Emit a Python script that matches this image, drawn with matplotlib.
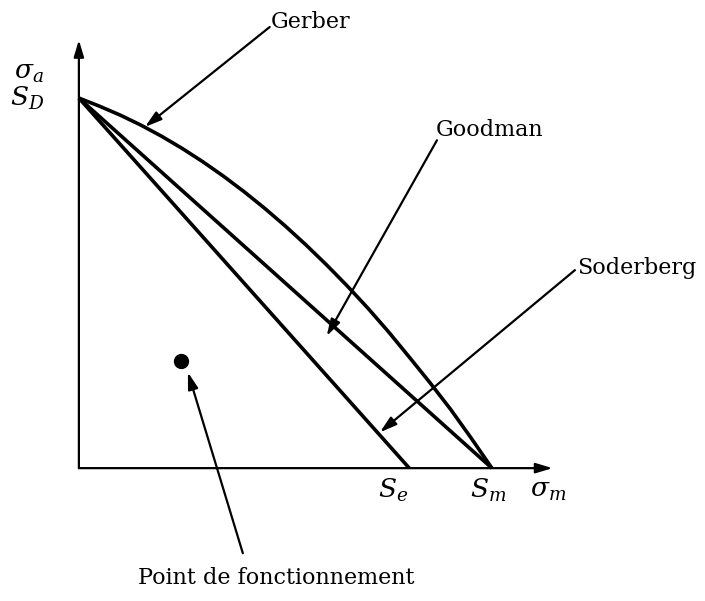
import numpy as np
import matplotlib
matplotlib.use("Agg")
import matplotlib.pyplot as plt

plt.rcParams['font.family'] = ['DejaVu Serif']
plt.rcParams['mathtext.fontset'] = 'dejavuserif'

# diagram values (normalised: S_D = 1 on sigma_a, S_m = 1 on sigma_m)
S_D = 1.0
S_m = 1.0
S_e = 0.80

# Gerber curve
gerber_x = [0.0, 0.05, 0.1, 0.15, 0.2, 0.25, 0.3, 0.35, 0.4, 0.45, 0.5,
            0.55, 0.6, 0.65, 0.7, 0.75, 0.8, 0.85, 0.9, 0.95, 1.0]
gerber_y = [1.0, 0.978, 0.954, 0.927, 0.897, 0.864, 0.828, 0.789, 0.747, 0.702, 0.654,
            0.603, 0.549, 0.492, 0.432, 0.368, 0.300, 0.231, 0.159, 0.081, 0.0]

# operating point
point_x = [0.247]
point_y = [0.289]

fig = plt.figure(figsize=(7.05, 6.01), dpi=100)
ax = fig.add_axes([0, 0, 1, 1])
ax.set_xlim(-0.191, 1.516)
ax.set_ylim(-0.359, 1.265)
ax.axis('off')

lw = 2.6
head = '-|>,head_length=1.0,head_width=0.3'
# axes with arrows
ax.annotate('', xy=(1.147, 0), xytext=(0, 0),
            arrowprops=dict(arrowstyle=head, lw=1.6, color='black', shrinkA=0, shrinkB=0))
ax.annotate('', xy=(0, 1.157), xytext=(0, 0),
            arrowprops=dict(arrowstyle=head, lw=1.6, color='black', shrinkA=0, shrinkB=0))

# Goodman, Soderberg, Gerber
ax.plot([0, S_m], [S_D, 0], color='black', lw=lw, solid_capstyle='butt')
ax.plot([0, S_e], [S_D, 0], color='black', lw=lw, solid_capstyle='butt')
ax.plot(gerber_x, gerber_y, color='black', lw=lw, solid_joinstyle='round', solid_capstyle='butt')

ax.plot(point_x, point_y, 'o', color='black', ms=10)

arrow = dict(arrowstyle=head, lw=1.6, color='black', shrinkA=0, shrinkB=0)
ax.annotate('', xy=(0.160, 0.922), xytext=(0.462, 1.192), arrowprops=arrow)
ax.annotate('', xy=(0.600, 0.357), xytext=(0.867, 0.886), arrowprops=arrow)
ax.annotate('', xy=(0.729, 0.097), xytext=(1.201, 0.535), arrowprops=arrow)
ax.annotate('', xy=(0.264, 0.259), xytext=(0.397, -0.230), arrowprops=arrow)

fs = 16
ax.text(0.465, 1.205, 'Gerber', fontsize=fs, ha='left', va='center')
ax.text(0.865, 0.914, 'Goodman', fontsize=fs, ha='left', va='center')
ax.text(1.206, 0.541, 'Soderberg', fontsize=fs, ha='left', va='center')
ax.text(0.479, -0.297, 'Point de fonctionnement', fontsize=fs, ha='center', va='center')

ms = 19
ax.text(-0.12, 1.07, r'$\sigma_a$', fontsize=ms, ha='center', va='center')
ax.text(-0.125, 1.0, r'$S_D$', fontsize=ms, ha='center', va='center')
ax.text(0.76, -0.06, r'$S_e$', fontsize=ms, ha='center', va='center')
ax.text(0.99, -0.06, r'$S_m$', fontsize=ms, ha='center', va='center')
ax.text(1.135, -0.06, r'$\sigma_m$', fontsize=ms, ha='center', va='center')

fig.savefig('out.png', dpi=100)
